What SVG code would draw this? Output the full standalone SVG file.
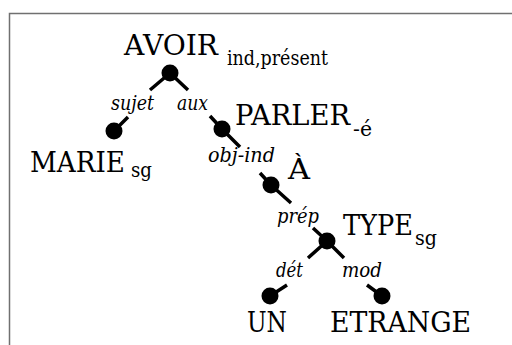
<svg xmlns="http://www.w3.org/2000/svg" width="512" height="345" viewBox="0 0 512 345">
<style>
.w{font-size:27px}
.s{font-size:20px}
.l{font-size:20px;font-style:italic}
.e{stroke:#000;stroke-width:3.5;fill:none}
.d{fill:#000}
</style>
<rect width="512" height="345" fill="#fff"/>
<path d="M9.5 345V13.5H512" fill="none" stroke="#707070" stroke-width="1.5"/>
<g font-family="DejaVu Serif, serif" fill="#000">
<g id="connectors">
<g id="e-sujet"><path class="e" d="M170 73L150 90M128 117L114 131"/><text class="l" x="111" y="110" textLength="43" lengthAdjust="spacingAndGlyphs">sujet</text></g>
<g id="e-aux"><path class="e" d="M170 73L188 90M210 116L222 129"/><text class="l" x="177" y="110" textLength="31" lengthAdjust="spacingAndGlyphs">aux</text></g>
<g id="e-objind"><path class="e" d="M222 129L240 147M260 173L271 185"/><text class="l" x="208" y="162" textLength="67" lengthAdjust="spacingAndGlyphs">obj-ind</text></g>
<g id="e-prep"><path class="e" d="M271 185L291 203M313 228L327 241"/><text class="l" x="277" y="223" textLength="42" lengthAdjust="spacingAndGlyphs">prép</text></g>
<g id="e-det"><path class="e" d="M327 241L308 258M287 285L270 296"/><text class="l" x="276" y="277" textLength="27" lengthAdjust="spacingAndGlyphs">dét</text></g>
<g id="e-mod"><path class="e" d="M327 241L344 258M367 285L382 296"/><text class="l" x="342" y="277" textLength="40" lengthAdjust="spacingAndGlyphs">mod</text></g>
</g>
<g id="n-avoir"><circle class="d" cx="170" cy="73" r="8.5"/><text class="w" x="124" y="55" textLength="94" lengthAdjust="spacingAndGlyphs">AVOIR</text><text class="s" x="227" y="65" textLength="101" lengthAdjust="spacingAndGlyphs">ind,présent</text></g>
<g id="n-marie"><circle class="d" cx="114" cy="131" r="8.5"/><text class="w" x="30" y="172" textLength="95" lengthAdjust="spacingAndGlyphs">MARIE</text><text class="s" x="131" y="177" textLength="21" lengthAdjust="spacingAndGlyphs">sg</text></g>
<g id="n-parler"><circle class="d" cx="222" cy="129" r="8.5"/><text class="w" x="235" y="125" textLength="115" lengthAdjust="spacingAndGlyphs">PARLER</text><text class="s" x="353" y="136" textLength="19" lengthAdjust="spacingAndGlyphs">-é</text></g>
<g id="n-a"><circle class="d" cx="271" cy="185" r="8.5"/><text class="w" x="288" y="179" textLength="22" lengthAdjust="spacingAndGlyphs">À</text></g>
<g id="n-type"><circle class="d" cx="327" cy="241" r="8.5"/><text class="w" x="343" y="235" textLength="70" lengthAdjust="spacingAndGlyphs">TYPE</text><text class="s" x="415" y="245" textLength="22" lengthAdjust="spacingAndGlyphs">sg</text></g>
<g id="n-un"><circle class="d" cx="270" cy="296" r="8.5"/><text class="w" x="247" y="332" textLength="40" lengthAdjust="spacingAndGlyphs">UN</text></g>
<g id="n-etrange"><circle class="d" cx="382" cy="296" r="8.5"/><text class="w" x="330" y="332" textLength="141" lengthAdjust="spacingAndGlyphs">ETRANGE</text></g>
</g>
</svg>
